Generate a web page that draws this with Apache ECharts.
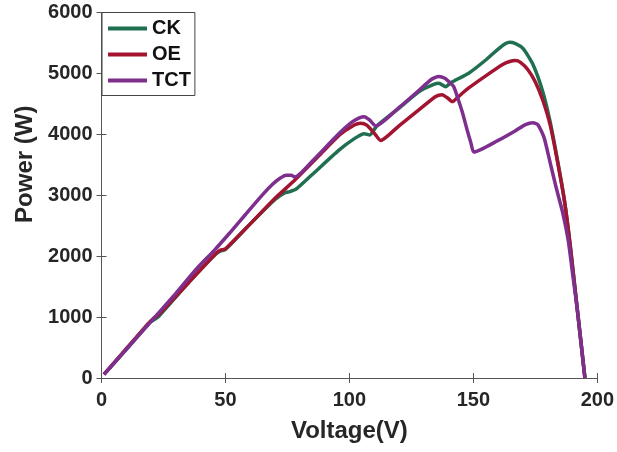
<!DOCTYPE html>
<html>
<head>
<meta charset="utf-8">
<title>PV power curves</title>
<script src="https://cdn.jsdelivr.net/npm/echarts@6/dist/echarts.min.js"></script>
<style>
  html, body { margin: 0; padding: 0; background: #fff; }
  #chart { width: 617px; height: 452px; }
</style>
</head>
<body>
<div id="chart"></div>
<script>
// series names
var seriesNames = ["CK", "OE", "TCT"];

// [voltage (V), power (W)]
var ckData = [
  [1, 60], [10, 470], [19.5, 910], [21, 950], [23, 1010], [35, 1560], [46, 2030],
  [48, 2085], [50, 2110], [60, 2530], [70, 2930], [74, 3040], [76, 3060], [78.5, 3100],
  [85, 3340], [95.9, 3744], [102, 3930], [106, 4010], [108.2, 3990], [111, 4135],
  [120, 4430], [128, 4700], [134, 4820], [136.1, 4840], [138.8, 4783], [141, 4850],
  [148.1, 5003], [155, 5220], [160, 5400], [163, 5490], [164.5, 5512], [167, 5490],
  [170, 5410], [174, 5150], [178, 4700], [181, 4200], [184, 3560], [186.7, 2920],
  [189, 2200], [192, 1100], [195, 0]
];
var oeData = [
  [1, 60], [10, 480], [19, 900], [21, 980], [23, 1040], [35, 1560], [46, 2040],
  [48, 2100], [50, 2120], [60, 2530], [70, 2950], [78, 3250], [88, 3660], [96, 3990],
  [101, 4130], [104.5, 4180], [107, 4150], [110, 4020], [112.6, 3900], [120, 4140],
  [128, 4400], [134.8, 4620], [137.4, 4650], [139.5, 4600], [141.5, 4537], [144, 4620],
  [148, 4757], [155, 4960], [162, 5150], [165, 5200], [167, 5210], [169, 5180],
  [172, 5060], [175, 4860], [178, 4560], [181, 4150], [184, 3540], [186.7, 2920],
  [189, 2200], [192, 1100], [195, 0]
];
var tctData = [
  [1, 60], [10, 470], [20, 930], [30, 1390], [38.3, 1790], [45.6, 2100], [51.7, 2380],
  [58, 2680], [65, 3010], [69, 3180], [72, 3280], [74.5, 3330], [76.5, 3330], [78, 3300],
  [85, 3560], [95.9, 4018], [101, 4200], [104, 4270], [106, 4290], [108, 4240],
  [110.6, 4138], [120, 4440], [128, 4720], [133, 4900], [136, 4948], [138.5, 4920],
  [140.5, 4850], [142.1, 4780], [144, 4560], [145.5, 4370], [147.5, 4072], [149, 3860],
  [150.2, 3710], [160, 3900], [167, 4060], [171, 4160], [174, 4192], [176, 4160],
  [178.5, 3950], [181, 3530], [183.5, 3110], [186, 2720], [188.3, 2250], [190, 1720],
  [192, 1100], [195, 0]
];

var colors = ["#1f6f50", "#a2142f", "#7e2f8e"];
var axisColor = "#555";
var labelStyle = { color: "#262626", fontSize: 20, fontWeight: "bold", fontFamily: "Liberation Sans" };

var chart = echarts.init(document.getElementById("chart"));
chart.setOption({
  animation: false,
  color: colors,
  grid: { left: 101.5, right: 18, top: 12.5, bottom: 74 },
  legend: {
    orient: "vertical",
    left: 102,
    top: 12.5,
    data: seriesNames,
    icon: "rect",
    itemWidth: 39,
    itemHeight: 4,
    itemGap: 6,
    padding: [6, 4, 5, 6],
    borderColor: "#444",
    borderWidth: 1,
    backgroundColor: "#fff",
    textStyle: { color: "#111", fontSize: 20, fontWeight: "bold", fontFamily: "Liberation Sans", lineHeight: 20 }
  },
  xAxis: [
    {
      type: "value",
      min: 0,
      max: 200,
      interval: 50,
      name: "Voltage(V)",
      nameLocation: "middle",
      nameGap: 41,
      nameTextStyle: { color: "#262626", fontSize: 24, fontWeight: "bold", fontFamily: "Liberation Sans" },
      axisLine: { lineStyle: { color: axisColor, width: 1 } },
      axisTick: { inside: true, length: 5, lineStyle: { color: axisColor } },
      axisLabel: Object.assign({ margin: 12 }, labelStyle),
      splitLine: { show: false }
    },
    {
      type: "value",
      position: "top",
      min: 0,
      max: 200,
      interval: 50,
      axisLine: { show: true, lineStyle: { color: axisColor, width: 1 } },
      axisTick: { inside: true, length: 5, lineStyle: { color: axisColor } },
      axisLabel: { show: false },
      splitLine: { show: false }
    }
  ],
  yAxis: [
    {
      type: "value",
      min: 0,
      max: 6000,
      interval: 1000,
      name: "Power (W)",
      nameLocation: "middle",
      nameGap: 58,
      nameTextStyle: { color: "#262626", fontSize: 24, fontWeight: "bold", fontFamily: "Liberation Sans", padding: [0, 0, 0, 62] },
      axisLine: { show: true, lineStyle: { color: axisColor, width: 1 } },
      axisTick: { show: true, inside: true, length: 5, lineStyle: { color: axisColor } },
      axisLabel: Object.assign({ margin: 9, formatter: function (v) { return String(v); } }, labelStyle),
      splitLine: { show: false }
    },
    {
      type: "value",
      position: "right",
      min: 0,
      max: 6000,
      interval: 1000,
      axisLine: { show: true, lineStyle: { color: axisColor, width: 1 } },
      axisTick: { show: true, inside: true, length: 5, lineStyle: { color: axisColor } },
      axisLabel: { show: false },
      splitLine: { show: false }
    }
  ],
  series: [
    { name: seriesNames[0], type: "line", data: ckData, showSymbol: false, smooth: 0.2, lineStyle: { width: 3.5 } },
    { name: seriesNames[1], type: "line", data: oeData, showSymbol: false, smooth: 0.2, lineStyle: { width: 3.5 } },
    { name: seriesNames[2], type: "line", data: tctData, showSymbol: false, smooth: 0.2, lineStyle: { width: 3.5 } }
  ]
});
</script>
</body>
</html>
